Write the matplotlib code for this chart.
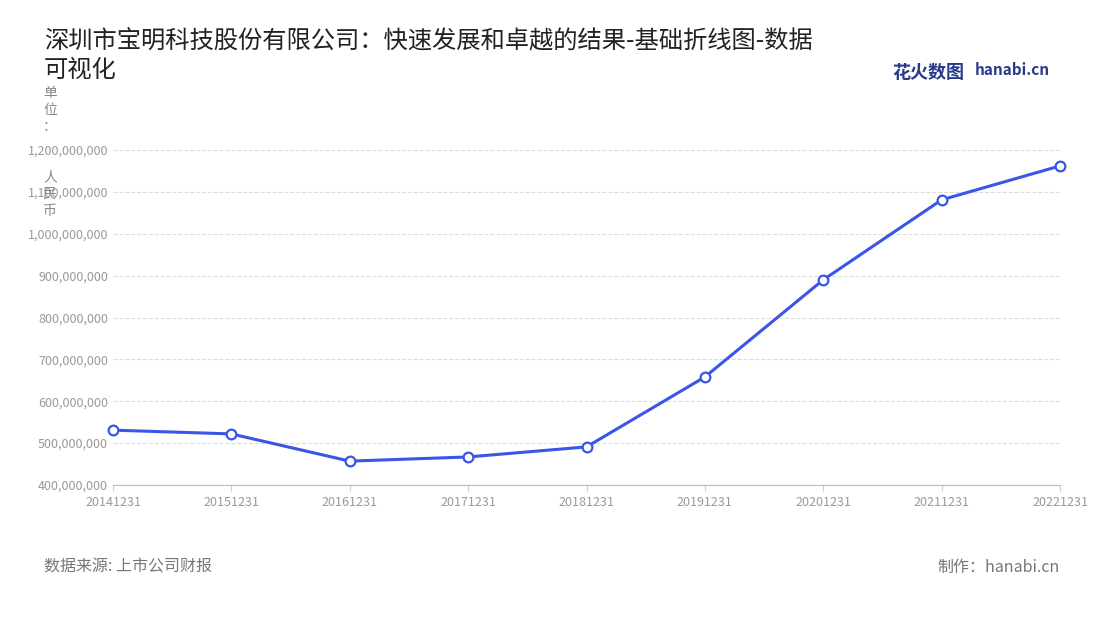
import matplotlib
matplotlib.use("Agg")
import matplotlib.pyplot as plt

plt.rcParams['font.family'] = ['Noto Sans CJK SC', 'DejaVu Sans']

years = ["20141231","20151231","20161231","20171231","20181231","20191231","20201231","20211231","20221231"]
values = [531e6, 522e6, 457e6, 467e6, 491e6, 658e6, 890e6, 1081e6, 1162e6]
yticks = list(range(400_000_000, 1_200_000_001, 100_000_000))

fig = plt.figure(figsize=(11, 6.2), dpi=100)
ax = fig.add_axes([113/1100, 1-485/620, (1060-113)/1100, (485-150)/620])
x = list(range(len(years)))
ax.plot(x, values, color='#3a55e8', lw=2.2, marker='o', ms=7, mfc='white', mec='#3a55e8', mew=1.6, zorder=3, clip_on=False)
ax.set_xlim(0, len(years)-1)
ax.set_ylim(400e6, 1200e6)
ax.set_xticks(x)
ax.set_xticklabels(years)
ax.set_yticks(yticks)
ax.set_yticklabels([f"{v:,}" for v in yticks])
ax.tick_params(colors='#999999', labelsize=9, length=0)
ax.tick_params(axis='x', length=4, color='#cccccc', pad=4)
ax.grid(axis='y', ls='--', color='#dddddd', lw=0.8)
for s in ['top', 'right', 'left']:
    ax.spines[s].set_visible(False)
ax.spines['bottom'].set_color('#bbbbbb')

fig.text(44/1100, 1-55/620, "深圳市宝明科技股份有限公司：快速发展和卓越的结果-基础折线图-数据\n可视化",
         fontsize=17.5, color='#222222', va='center', linespacing=1.2)
fig.text(50/1100, 1-152/620, "单\n位\n：\n\n\n人\n民\n币", fontsize=10, color='#888888', ha='center', va='center', linespacing=1.25)
fig.text(44/1100, 1-567/620, "数据来源: 上市公司财报", fontsize=11.5, color='#777777', va='center')
fig.text(1060/1100, 1-567/620, "制作：hanabi.cn", fontsize=11.5, color='#777777', va='center', ha='right')
fig.text(892/1100, 1-72/620, "花火数图", fontsize=13, color='#2a3a8a', va='center', fontweight='bold')
fig.text(975/1100, 1-70/620, "hanabi.cn", fontsize=11, color='#2a3a8a', va='center', fontweight='bold')
fig.savefig("out.png", dpi=100)
